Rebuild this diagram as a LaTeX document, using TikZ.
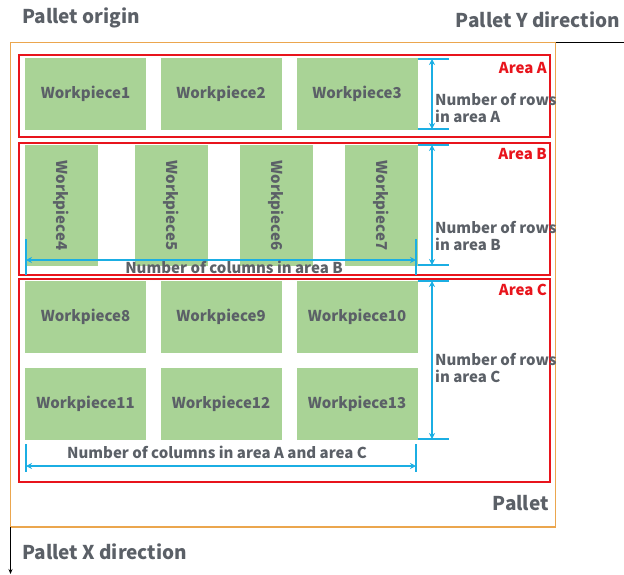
\documentclass[tikz,border=0pt]{standalone}
\usepackage{fontspec}
\setmainfont{Noto Sans CJK SC}
\usepackage{xcolor}
\usetikzlibrary{arrows.meta}
\definecolor{palletorange}{HTML}{EBA64E}
\definecolor{areared}{HTML}{E8141C}
\definecolor{dimblue}{HTML}{1BAEE3}
\definecolor{workgreen}{HTML}{A9D396}
\definecolor{textgray}{HTML}{5B6067}

\tikzset{
  workpiece/.style={fill=workgreen, text=textgray, font=\fontsize{15}{15}\selectfont\bfseries, inner sep=0pt},
  wide/.style={minimum width=121pt, minimum height=72pt},
  tall/.style={minimum width=73pt, minimum height=121pt},
  arealabel/.style={text=areared, font=\fontsize{15}{15}\selectfont\bfseries, anchor=east, inner sep=0pt},
  dimlabel/.style={text=textgray, font=\fontsize{15}{17}\selectfont\bfseries, inner sep=0pt},
  dimline/.style={dimblue, line width=2pt},
  dimarrow/.style={dimblue, line width=2pt, {Stealth[length=6pt,width=6pt]}-{Stealth[length=6pt,width=6pt]}},
  titlelabel/.style={text=textgray, font=\fontsize{19}{19}\selectfont\bfseries, inner sep=0pt}
}

\begin{document}
\begin{tikzpicture}[x=1pt, y=-1pt]
                \useasboundingbox (0,0) rectangle (624,574);
                % pallet and areas
                \draw[palletorange, line width=1.5pt] (10.5,42.5) rectangle (555.5,527);
                \draw[areared, line width=2pt] (19,55) rectangle (550,137);
                \draw[areared, line width=2pt] (19,143) rectangle (550,275);
                \draw[areared, line width=2pt] (19,279) rectangle (550,482);
                % area A
                \node[workpiece, wide] (wp1) at (85.5,94) {Workpiece1};
                \node[workpiece, wide] (wp2) at (221,94) {Workpiece2};
                \node[workpiece, wide] (wp3) at (357,94) {Workpiece3};
                % area B
                \node[workpiece, tall] (wp4) at (61.5,205.5) {\rotatebox{-90}{Workpiece4}};
                \node[workpiece, tall] (wp5) at (171.5,205.5) {\rotatebox{-90}{Workpiece5}};
                \node[workpiece, tall] (wp6) at (276.5,205.5) {\rotatebox{-90}{Workpiece6}};
                \node[workpiece, tall] (wp7) at (381.5,205.5) {\rotatebox{-90}{Workpiece7}};
                % area C
                \node[workpiece, wide] (wp8) at (85.5,317) {Workpiece8};
                \node[workpiece, wide] (wp9) at (221,317) {Workpiece9};
                \node[workpiece, wide] (wp10) at (357,317) {Workpiece10};
                \node[workpiece, wide] (wp11) at (85.5,404) {Workpiece11};
                \node[workpiece, wide] (wp12) at (221,404) {Workpiece12};
                \node[workpiece, wide] (wp13) at (357,404) {Workpiece13};
                % area names
                \node[arealabel] (areaA) at (547,68) {Area A};
                \node[arealabel] (areaB) at (547,154) {Area B};
                \node[arealabel] (areaC) at (547,290) {Area C};
                % rows of area A
                \coordinate (rowAtop) at (449,59);
                \coordinate (rowAbot) at (449,129);
                \draw[dimline] (wp3.north east |- rowAtop) -- (rowAtop);
                \draw[dimline] (wp3.north east |- rowAbot) -- (rowAbot);
                \draw[dimarrow] (432,59) -- (432,129);
                \node[dimlabel, anchor=west, align=left] (rowsA) at (435,108) {Number of rows\\in area A};
                % rows of area B
                \coordinate (rowBtop) at (449,145);
                \coordinate (rowBbot) at (449,265);
                \draw[dimline] (wp7.north east |- rowBtop) -- (rowBtop);
                \draw[dimline] (wp7.north east |- rowBbot) -- (rowBbot);
                \draw[dimarrow] (432,145) -- (432,265);
                \node[dimlabel, anchor=west, align=left] (rowsB) at (435,236) {Number of rows\\in area B};
                % columns of area B
                \coordinate (colBleft) at (26,239);
                \coordinate (colBright) at (416,239);
                \draw[dimline] (colBleft) -- (26,275);
                \draw[dimline] (colBright) -- (416,275);
                \draw[dimarrow] (26,260) -- (416,260);
                \node[dimlabel] (colsB) at (234,267) {Number of columns in area B};
                % rows of area C
                \coordinate (rowCtop) at (449,281);
                \coordinate (rowCbot) at (449,439);
                \draw[dimline] (wp10.north east |- rowCtop) -- (rowCtop);
                \draw[dimline] (wp13.north east |- rowCbot) -- (rowCbot);
                \draw[dimarrow] (432,281) -- (432,439);
                \node[dimlabel, anchor=west, align=left] (rowsC) at (435,368) {Number of rows\\in area C};
                % columns of area A and C
                \coordinate (colCleft) at (26,444);
                \coordinate (colCright) at (416,444);
                \draw[dimline] (colCleft) -- (26,472);
                \draw[dimline] (colCright) -- (416,472);
                \draw[dimarrow] (26,466) -- (416,466);
                \node[dimlabel] (colsC) at (217,452) {Number of columns in area A and area C};
                % pallet texts and directions
                \node[titlelabel, anchor=west] (origin) at (22,18) {Pallet origin};
                \node[titlelabel, anchor=east] (ydir) at (620,20) {Pallet Y direction};
                \node[titlelabel, anchor=west] (xdir) at (22,552) {Pallet X direction};
                \node[titlelabel, anchor=east] (pallet) at (549,503) {Pallet};
                \coordinate (ycorner) at (555.5,42.5);
                \coordinate (yend) at (624,42.5);
                \coordinate (xcorner) at (10.5,527);
                \coordinate (xend) at (10.5,574);
                \draw[line width=1pt] (ycorner) -- (yend);
                \draw[line width=1pt, -{Stealth[length=5pt,width=4pt]}] (xcorner) -- (xend);
            \end{tikzpicture}
\end{document}
